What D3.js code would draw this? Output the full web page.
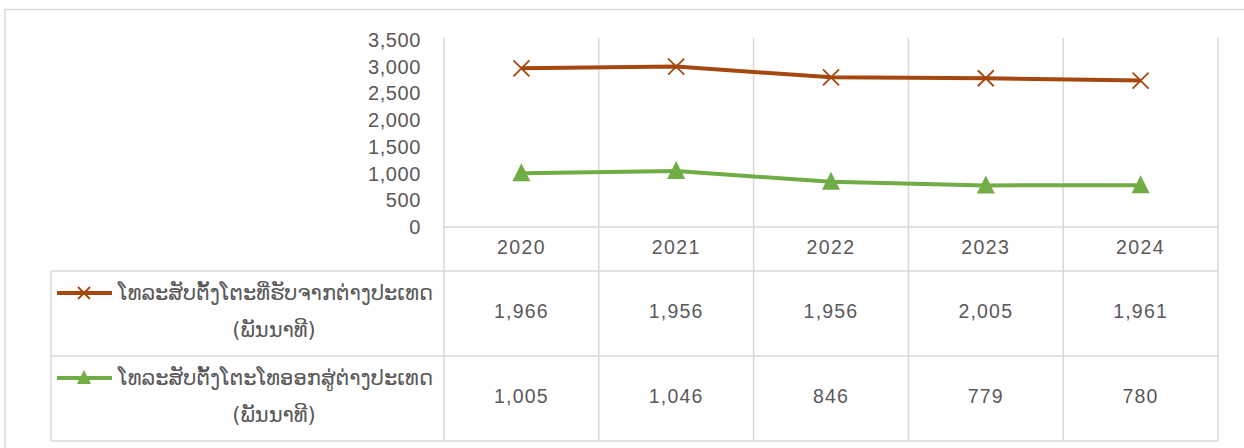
<!DOCTYPE html>
<html>
<head>
<meta charset="utf-8">
<script src="https://cdn.jsdelivr.net/npm/d3@7"></script>
<style>
  body { margin: 0; background: #fff; }
  svg { display: block; }
  text { font-family: "Liberation Sans", Arial, sans-serif; fill: #595959; }
  .lao { font-family: "DejaVu Sans", "Noto Sans", sans-serif; }
</style>
</head>
<body>
<svg id="chart" width="1244" height="448"></svg>
<script>
// ຂໍ້ມູນ
const years = ['2020', '2021', '2022', '2023', '2024'];
const incoming = [1966, 1956, 1956, 2005, 1961];   // ທີ່ຮັບຈາກຕ່າງປະເທດ
const outgoing = [1005, 1046, 846, 779, 780];      // ໂທອອກສູ່ຕ່າງປະເທດ
const yTicks = [0, 500, 1000, 1500, 2000, 2500, 3000, 3500];
const seriesNames = [
    ['ໂທລະສັບຕັ້ງໂຕະທີ່ຮັບຈາກຕ່າງປະເທດ', '(ພັນນາທີ)'],
    ['ໂທລະສັບຕັ້ງໂຕະໂທອອກສູ່ຕ່າງປະເທດ', '(ພັນນາທີ)']
];
const colors = ['#A5480F', '#70AD47'];

let svg = d3.select('#chart');
let grid = '#D9D9D9';
let fmt = d3.format(',');

// ກອບນອກ
svg.append('path')
    .attr('d', 'M5,460 L5,9.5 L1250,9.5')
    .attr('fill', 'none').attr('stroke', grid).attr('stroke-width', 1.5);

// ຂະໜາດ
let plotLeft = 444, plotRight = 1218, plotTop = 40, zero = 227,
    tableLeft = 51, rowLines = [271, 356, 441];

let x = d3.scaleBand().domain(years).range([plotLeft, plotRight]);
let y = d3.scaleLinear().domain([0, 3500]).range([zero, plotTop]);

// ເສັ້ນຕາຕະລາງ ແນວຕັ້ງ
let bounds = years.map(d => x(d)).concat([plotRight]);
svg.selectAll('.vgrid').data(bounds).enter().append('line')
    .attr('x1', d => d).attr('x2', d => d)
    .attr('y1', plotTop - 2).attr('y2', rowLines[2])
    .attr('stroke', grid).attr('stroke-width', 1.5);
svg.append('line').attr('x1', tableLeft).attr('x2', tableLeft)
    .attr('y1', rowLines[0]).attr('y2', rowLines[2])
    .attr('stroke', grid).attr('stroke-width', 1.5);

// ເສັ້ນແນວນອນ
svg.append('line').attr('x1', plotLeft).attr('x2', plotRight)
    .attr('y1', zero).attr('y2', zero)
    .attr('stroke', grid).attr('stroke-width', 1.5);
svg.selectAll('.hrow').data(rowLines).enter().append('line')
    .attr('x1', tableLeft).attr('x2', plotRight)
    .attr('y1', d => d).attr('y2', d => d)
    .attr('stroke', grid).attr('stroke-width', 1.5);

// ແກນ y
svg.selectAll('.ytick').data(yTicks).enter().append('text')
    .attr('x', 421).attr('y', d => y(d))
    .attr('dy', '0.35em')
    .attr('text-anchor', 'end')
    .attr('font-size', 20)
    .attr('letter-spacing', 0.6)
    .text(d => fmt(d));

// ປີ
svg.selectAll('.year').data(years).enter().append('text')
    .attr('x', d => x(d) + x.bandwidth() / 2)
    .attr('y', 247).attr('dy', '0.35em')
    .attr('text-anchor', 'middle')
    .attr('font-size', 19.5)
    .attr('letter-spacing', 1.4)
    .text(d => d);

// ຊ້ອນກັນ (stacked line)
let table = years.map((d, i) => ({year: d, incoming: incoming[i], outgoing: outgoing[i]}));
let stack = d3.stack().keys(['outgoing', 'incoming'])(table);
let stackByName = {outgoing: stack[0], incoming: stack[1]};

let line = d3.line()
    .x(d => x(d.data.year) + x.bandwidth() / 2)
    .y(d => y(d[1]));

[['incoming', 0], ['outgoing', 1]].forEach(function (s) {
    let data = stackByName[s[0]], col = colors[s[1]];
    svg.append('path').datum(data)
        .attr('d', line)
        .attr('fill', 'none').attr('stroke', col)
        .attr('stroke-width', 4).attr('stroke-linejoin', 'round');
    if (s[1] === 0) {
        svg.selectAll('.xm').data(data).enter().append('path')
            .attr('transform', d => 'translate(' + (x(d.data.year) + x.bandwidth() / 2) + ',' + y(d[1]) + ')')
            .attr('d', 'M-8,-8L8,8M-8,8L8,-8')
            .attr('stroke', col).attr('stroke-width', 1.8).attr('fill', 'none');
    } else {
        svg.selectAll('.tri').data(data).enter().append('path')
            .attr('transform', d => 'translate(' + (x(d.data.year) + x.bandwidth() / 2) + ',' + y(d[1]) + ')')
            .attr('d', 'M0,-10L9,8L-9,8Z')
            .attr('fill', col);
    }
});

// ຕາຕະລາງ ຂໍ້ມູນ
let rows = [incoming, outgoing];
rows.forEach(function (vals, r) {
    let cy = (rowLines[r] + rowLines[r + 1]) / 2 - 2;
    svg.selectAll('.val' + r).data(vals).enter().append('text')
        .attr('x', (d, i) => x(years[i]) + x.bandwidth() / 2)
        .attr('y', cy).attr('dy', '0.35em')
        .attr('text-anchor', 'middle')
        .attr('font-size', 19.5)
        .attr('letter-spacing', 1.2)
        .text(d => fmt(d));

    // ສັນຍາລັກ
    let ly = rowLines[r] + 22;
    svg.append('line').attr('x1', 57).attr('x2', 112)
        .attr('y1', ly).attr('y2', ly)
        .attr('stroke', colors[r]).attr('stroke-width', 4);
    if (r === 0) {
        svg.append('path').attr('transform', 'translate(84,' + ly + ')')
            .attr('d', 'M-6,-6L6,6M-6,6L6,-6')
            .attr('stroke', colors[r]).attr('stroke-width', 1.8);
    } else {
        svg.append('path').attr('transform', 'translate(84,' + ly + ')')
            .attr('d', 'M0,-8L7,6L-7,6Z')
            .attr('fill', colors[r]);
    }
    svg.append('text').attr('class', 'lao')
        .attr('x', 118).attr('y', ly).attr('dy', '0.35em')
        .attr('font-size', 21)
        .attr('textLength', 315)
        .attr('lengthAdjust', 'spacingAndGlyphs')
        .text(seriesNames[r][0]);
    svg.append('text').attr('class', 'lao')
        .attr('x', 274).attr('y', ly + 37).attr('dy', '0.35em')
        .attr('text-anchor', 'middle')
        .attr('font-size', 21)
        .text(seriesNames[r][1]);
});
</script>
</body>
</html>
